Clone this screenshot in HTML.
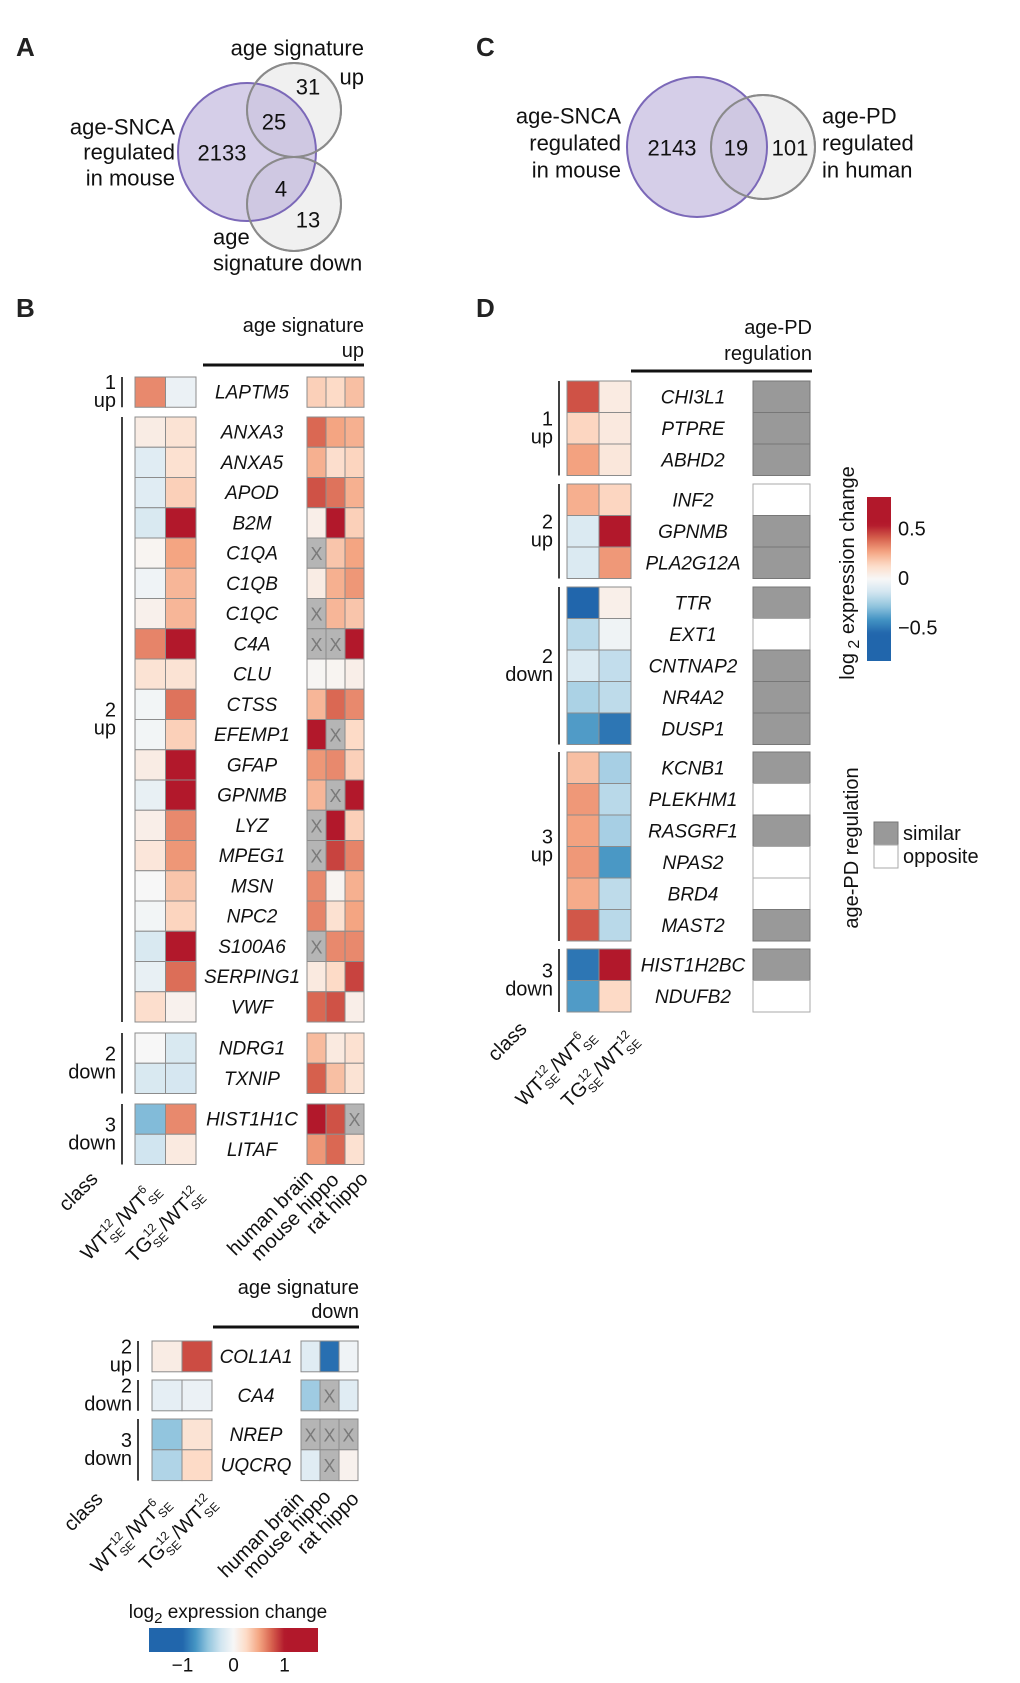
<!DOCTYPE html>
<html><head><meta charset="utf-8"><style>
html,body{margin:0;padding:0;background:#fff;}
svg{display:block;font-family:"Liberation Sans",Arial,sans-serif;}
</style></head><body>
<svg id="fig" xmlns="http://www.w3.org/2000/svg" width="1020" height="1683" viewBox="0 0 1020 1683">
<defs>
<linearGradient id="gradH" x1="0" y1="0" x2="1" y2="0"></linearGradient>
<linearGradient id="gradV" x1="0" y1="1" x2="0" y2="0"></linearGradient>
</defs>
<g font-weight="bold" font-size="26" fill="#222">
<text x="16" y="56">A</text>
<text x="476" y="56">C</text>
<text x="16" y="317">B</text>
<text x="476" y="317">D</text>
</g>
<!-- Venn A -->
<g font-size="22" fill="#111">
<circle cx="294" cy="110" r="47" fill="#f0f0f0" stroke="#8a8a8a" stroke-width="2"/>
<circle cx="294" cy="204" r="47" fill="#f0f0f0" stroke="#8a8a8a" stroke-width="2"/>
<circle cx="247" cy="152" r="69" fill="#b9aed8" fill-opacity="0.6" stroke="#7b68b8" stroke-width="2"/>
<circle cx="294" cy="110" r="47" fill="none" stroke="#8a8a8a" stroke-width="2"/>
<circle cx="294" cy="204" r="47" fill="none" stroke="#8a8a8a" stroke-width="2"/>
<g text-anchor="middle" dominant-baseline="central">
<text x="308" y="87">31</text>
<text x="274" y="122">25</text>
<text x="222" y="153">2133</text>
<text x="281" y="189">4</text>
<text x="308" y="220">13</text>
</g>
<g dominant-baseline="central" text-anchor="end">
<text x="364" y="48">age signature</text>
<text x="364" y="77">up</text>
<text x="175" y="127">age-SNCA</text>
<text x="175" y="152">regulated</text>
<text x="175" y="178">in mouse</text>
</g>
<g dominant-baseline="central">
<text x="213" y="237">age</text>
<text x="213" y="263">signature down</text>
</g>
</g>
<!-- Venn C -->
<g font-size="22" fill="#111">
<circle cx="763" cy="147" r="52" fill="#f0f0f0" stroke="#8a8a8a" stroke-width="2"/>
<circle cx="697" cy="147" r="70" fill="#b9aed8" fill-opacity="0.6" stroke="#7b68b8" stroke-width="2"/>
<circle cx="763" cy="147" r="52" fill="none" stroke="#8a8a8a" stroke-width="2"/>
<g text-anchor="middle" dominant-baseline="central">
<text x="672" y="148">2143</text>
<text x="736" y="148">19</text>
<text x="790" y="148">101</text>
</g>
<g dominant-baseline="central" text-anchor="end">
<text x="621" y="116">age-SNCA</text>
<text x="621" y="143">regulated</text>
<text x="621" y="170">in mouse</text>
</g>
<g dominant-baseline="central">
<text x="822" y="116">age-PD</text>
<text x="822" y="143">regulated</text>
<text x="822" y="170">in human</text>
</g>
</g>
<g id="plots"></g>
</svg>
<script>
// ---- data (log2 expression changes; null = not available) ----
const bUpGenes = ['LAPTM5','ANXA3','ANXA5','APOD','B2M','C1QA','C1QB','C1QC','C4A','CLU','CTSS','EFEMP1','GFAP','GPNMB','LYZ','MPEG1','MSN','NPC2','S100A6','SERPING1','VWF','NDRG1','TXNIP','HIST1H1C','LITAF'];
const bUpWT = [0.6,0.1,-0.15,-0.15,-0.2,0.03,-0.05,0.06,0.62,0.18,-0.03,-0.03,0.1,-0.1,0.08,0.15,0,-0.03,-0.2,-0.1,0.22,0,-0.2,-0.55,-0.25];
const bUpTG = [-0.08,0.18,0.2,0.3,1.2,0.5,0.42,0.42,1.2,0.18,0.68,0.3,1.2,1.2,0.6,0.55,0.35,0.28,1.2,0.7,0.05,-0.2,-0.22,0.6,0.12];
const bUpHuman = [0.3,0.72,0.45,0.8,0.08,null,0.1,null,null,0.02,0.42,1.2,0.55,0.42,null,null,0.6,0.62,null,0.12,0.72,0.4,0.75,1.2,0.55];
const bUpMouse = [0.25,0.5,0.22,0.68,1.2,0.35,0.45,0.42,null,0.03,0.72,null,0.6,null,1.2,0.85,0.03,0.2,0.6,0.25,0.8,0.12,0.38,0.8,0.72];
const bUpRat = [0.38,0.45,0.28,0.45,0.3,0.5,0.55,0.35,1.2,0.08,0.6,0.25,0.3,1.2,0.3,0.62,0.45,0.5,0.6,0.85,0.08,0.2,0.18,null,0.2];
const bUpClassLabels = [['1','up'],['2','up'],['2','down'],['3','down']];
const bUpClassSizes = [1,20,2,2];

const bDnGenes = ['COL1A1','CA4','NREP','UQCRQ'];
const bDnWT = [0.1,-0.12,-0.5,-0.38];
const bDnTG = [0.82,-0.08,0.18,0.25];
const bDnHuman = [-0.15,-0.45,null,-0.15];
const bDnMouse = [-0.95,null,null,null];
const bDnRat = [-0.05,-0.15,null,0.05];
const bDnClassLabels = [['2','up'],['2','down'],['3','down']];
const bDnClassSizes = [1,1,2];

const dGenes = ['CHI3L1','PTPRE','ABHD2','INF2','GPNMB','PLA2G12A','TTR','EXT1','CNTNAP2','NR4A2','DUSP1','KCNB1','PLEKHM1','RASGRF1','NPAS2','BRD4','MAST2','HIST1H2BC','NDUFB2'];
const dWT = [0.44,0.15,0.28,0.25,-0.1,-0.1,-0.6,-0.19,-0.1,-0.22,-0.39,0.21,0.3,0.28,0.3,0.26,0.43,-0.5,-0.39];
const dTG = [0.06,0.07,0.08,0.15,0.6,0.3,0.04,-0.03,-0.17,-0.18,-0.5,-0.23,-0.19,-0.23,-0.4,-0.18,-0.19,0.6,0.14];
const dPD = ['similar','similar','similar','opposite','similar','similar','similar','opposite','similar','similar','similar','similar','opposite','similar','opposite','opposite','similar','similar','opposite'];
const dClassLabels = [['1','up'],['2','up'],['2','down'],['3','up'],['3','down']];
const dClassSizes = [3,3,5,6,2];

// ---- colour scale ----
const pal = ['#2166ac','#4393c3','#92c5de','#d1e5f0','#f7f7f7','#fddbc7','#f4a582','#d6604d','#b2182b'];
function hex(h){return [parseInt(h.substr(1,2),16),parseInt(h.substr(3,2),16),parseInt(h.substr(5,2),16)];}
function color(v,sat){
  let t=Math.max(-1,Math.min(1,v/sat));
  let p=(t+1)*4; let i=Math.min(7,Math.floor(p)); let f=p-i;
  let a=hex(pal[i]),b=hex(pal[i+1]);
  return 'rgb('+a.map((x,k)=>Math.round(x+(b[k]-x)*f)).join(',')+')';
}
const NS='http://www.w3.org/2000/svg';
const root=document.getElementById('plots');
function mk(tag,attrs,parent,txt){const e=document.createElementNS(NS,tag);for(const k in attrs)e.setAttribute(k,attrs[k]);if(txt!==undefined)e.textContent=txt;(parent||root).appendChild(e);return e;}

function cell(g,x,y,w,h,v,sat){
  if(v===null){
    const r=mk('rect',{x:x,y:y,width:w,height:h,fill:'#b5b5b5',stroke:'#8c8c8c','stroke-width':1},g);
    
    
    mk('text',{x:x+w/2,y:y+h/2+1,'text-anchor':'middle','dominant-baseline':'central','font-size':18,fill:'#7a7a7a'},g,'X');
  } else {
    const r=mk('rect',{x:x,y:y,width:w,height:h,fill:color(v,sat),stroke:'#8c8c8c','stroke-width':1},g);
    
    
  }
}

function heatmap(cfg){
  const g=mk('g',{});
  
  
  let idx=0;
  cfg.sizes.forEach((n,gi)=>{
    const top=cfg.tops[gi], bottom=top+n*cfg.rh;
    const br=mk('line',{x1:cfg.brX,x2:cfg.brX,y1:top,y2:bottom,stroke:'#111','stroke-width':1.6},g);
    
    
    const mid=(top+bottom)/2;
    const l1=mk('text',{x:cfg.brX-6,y:mid-9,'text-anchor':'end','dominant-baseline':'central','font-size':20,fill:'#111'},g,cfg.labels[gi][0]);
    
    
    mk('text',{x:cfg.brX-6,y:mid+9,'text-anchor':'end','dominant-baseline':'central','font-size':20,fill:'#111'},g,cfg.labels[gi][1]);
    for(let r=0;r<n;r++,idx++){
      const y=top+r*cfg.rh;
      cfg.left.forEach((arr,c)=>cell(g,cfg.lx+c*cfg.lw,y,cfg.lw,cfg.rh,arr[idx],cfg.sat));
      const t=mk('text',{x:cfg.nx,y:y+cfg.rh/2+1,'text-anchor':'middle','dominant-baseline':'central','font-size':19,'font-style':'italic',fill:'#111'},g,cfg.genes[idx]);
      
      
      if(cfg.right){cfg.right.forEach((arr,c)=>cell(g,cfg.rx+c*cfg.rw,y,cfg.rw,cfg.rh,arr[idx],cfg.sat));}
      if(cfg.pd){
        const b=mk('rect',{x:cfg.px,y:y,width:cfg.pw,height:cfg.rh,fill:cfg.pd[idx]==='similar'?'#999999':'#ffffff',stroke:cfg.pd[idx]==='similar'?'#777':'#aaa','stroke-width':1},g);
        
        
      }
    }
  });
  return g;
}

function header(x,y1,y2,l1,l2,lineY,lx1,lx2,name){
  const g=mk('g',{'font-size':20,fill:'#111'});
  
  
  mk('text',{x:x,y:y1,'text-anchor':'end','dominant-baseline':'central'},g,l1);
  mk('text',{x:x,y:y2,'text-anchor':'end','dominant-baseline':'central'},g,l2);
  mk('line',{x1:lx1,x2:lx2,y1:lineY,y2:lineY,stroke:'#111','stroke-width':3},g);
}

function rotLabel(x,y,parts,name){
  const t=mk('text',{transform:'translate('+x+','+y+') rotate(-45)','text-anchor':'end','font-size':20,fill:'#111'});
  
  
  parts.forEach(p=>{mk('tspan',{},t,p[0]);});
  return t;
}
function ratioLabel(x,y,a,b,name){
  const t=mk('text',{transform:'translate('+x+','+y+') rotate(-45)','text-anchor':'end','font-size':20,fill:'#111'});
  
  
  mk('tspan',{},t,a[0]);
  mk('tspan',{'font-size':12,dy:-9},t,a[1]);
  mk('tspan',{'font-size':12,dx:-14,dy:15},t,'SE');
  mk('tspan',{dx:2,dy:-6},t,'/');
  mk('tspan',{},t,b[0]);
  mk('tspan',{'font-size':12,dy:-9},t,b[1]);
  mk('tspan',{'font-size':12,dx:-(b[1].length*7),dy:15},t,'SE');
  return t;
}

// ---- Panel B upper ----
header(364,326,351,'age signature','up',365,203,364,'b-up-header');
heatmap({name:'heatmap-b-age-up',genes:bUpGenes,left:[bUpWT,bUpTG],right:[bUpHuman,bUpMouse,bUpRat],sat:1,
  sizes:bUpClassSizes,labels:bUpClassLabels,tops:[377,417,1033,1104],rh:30.25,lx:135,lw:30.5,rx:307,rw:19,nx:252,brX:122});
rotLabel(99,1180,[['class']],'b-up-xlabel-class');
ratioLabel(160,1190,['WT','12'],['WT','6'],'b-up-xlabel-wt');
ratioLabel(203,1195,['TG','12'],['WT','12'],'b-up-xlabel-tg');
rotLabel(314,1178,[['human brain']],'b-up-xlabel-human');
rotLabel(340,1181,[['mouse hippo']],'b-up-xlabel-mouse');
rotLabel(369,1180,[['rat hippo']],'b-up-xlabel-rat');

// ---- Panel B lower ----
header(359,1288,1312,'age signature','down',1327,213,359,'b-down-header');
heatmap({name:'heatmap-b-age-down',genes:bDnGenes,left:[bDnWT,bDnTG],right:[bDnHuman,bDnMouse,bDnRat],sat:1,
  sizes:bDnClassSizes,labels:bDnClassLabels,tops:[1341,1380,1419],rh:30.8,lx:152,lw:30,rx:301,rw:19,nx:256,brX:138});
rotLabel(104,1500,[['class']],'b-down-xlabel-class');
ratioLabel(170,1503,['WT','12'],['WT','6'],'b-down-xlabel-wt');
ratioLabel(216,1503,['TG','12'],['WT','12'],'b-down-xlabel-tg');
rotLabel(305,1500,[['human brain']],'b-down-xlabel-human');
rotLabel(332,1498,[['mouse hippo']],'b-down-xlabel-mouse');
rotLabel(360,1500,[['rat hippo']],'b-down-xlabel-rat');

// ---- Panel D ----
header(812,328,354,'age-PD','regulation',371,631,812,'d-header');
heatmap({name:'heatmap-d',genes:dGenes,left:[dWT,dTG],right:null,pd:dPD,sat:0.55,
  sizes:dClassSizes,labels:dClassLabels,tops:[381,484,587,752,949],rh:31.5,lx:567,lw:32,nx:693,px:753,pw:57,brX:559});
rotLabel(528,1030,[['class']],'d-xlabel-class');
ratioLabel(595,1036,['WT','12'],['WT','6'],'d-xlabel-wt');
ratioLabel(638,1040,['TG','12'],['WT','12'],'d-xlabel-tg');

// ---- colour bars ----
const barHTicks=[-1,0,1];
const barVTicks=[-0.5,0,0.5];
function fillGrad(id,lo,hi,sat){
  const gr=document.getElementById(id);
  for(let i=0;i<=40;i++){const v=lo+(hi-lo)*i/40;mk('stop',{offset:(i/40),'stop-color':color(v,sat)},gr);}
}
fillGrad('gradH',-1.65,1.65,1);
fillGrad('gradV',-0.83,0.83,0.55);
(function(){
  const g=mk('g',{'font-size':19,fill:'#111'});
  
  
  const t=mk('text',{x:228,y:1612,'text-anchor':'middle','dominant-baseline':'central'},g);
  mk('tspan',{},t,'log');mk('tspan',{'font-size':15,dy:6},t,'2');mk('tspan',{dy:-6},t,' expression change');
  mk('rect',{x:149,y:1628,width:169,height:24,fill:'url(#gradH)'},g);
  const sx=v=>233.5+v*51;
  barHTicks.forEach(v=>{mk('text',{x:sx(v),y:1666,'text-anchor':'middle','dominant-baseline':'central'},g,v<0?'\u2212'+Math.abs(v):String(v));});
})();
(function(){
  const g=mk('g',{'font-size':20,fill:'#111'});
  
  
  const t=mk('text',{transform:'translate(848,573) rotate(-90)','text-anchor':'middle','dominant-baseline':'central'},g);
  mk('tspan',{},t,'log');mk('tspan',{'font-size':16,dy:6},t,' 2');mk('tspan',{dy:-6},t,' expression change');
  mk('rect',{x:867,y:497,width:24,height:164,fill:'url(#gradV)'},g);
  const sy=v=>579-v*99;
  barVTicks.forEach(v=>{mk('text',{x:898,y:sy(v),'dominant-baseline':'central'},g,v<0?'\u2212'+Math.abs(v):String(v));});
})();
(function(){
  const g=mk('g',{'font-size':20,fill:'#111'});
  
  
  mk('text',{transform:'translate(852,848) rotate(-90)','text-anchor':'middle','dominant-baseline':'central'},g,'age-PD regulation');
  mk('rect',{x:874,y:822,width:24,height:23,fill:'#999',stroke:'#777'},g);
  mk('rect',{x:874,y:845,width:24,height:23,fill:'#fff',stroke:'#aaa'},g);
  mk('text',{x:903,y:834,'dominant-baseline':'central'},g,'similar');
  mk('text',{x:903,y:857,'dominant-baseline':'central'},g,'opposite');
})();
</script>
</body></html>
